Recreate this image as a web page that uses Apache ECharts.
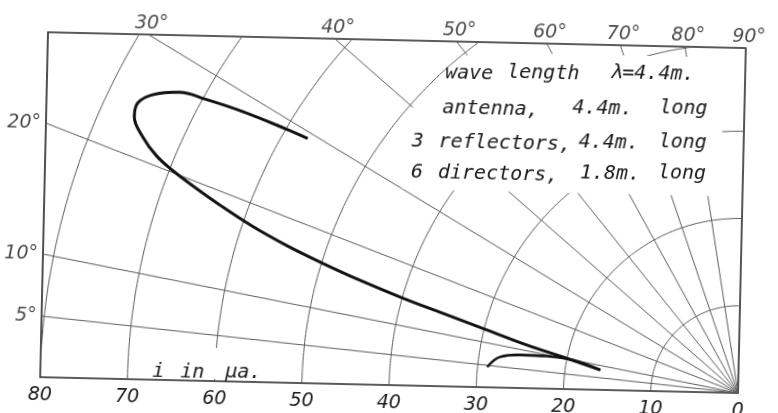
<!DOCTYPE html>
<html>
<head>
<meta charset="utf-8">
<script src="https://cdn.jsdelivr.net/npm/echarts@6/dist/echarts.min.js"></script>
<style>
  html, body { margin: 0; width: 778px; height: 413px; overflow: hidden; background: #fff; }
  /* the scanned sheet sits a little askew, so the whole drawing is turned about the origin */
  #chart { position: absolute; left: -30px; top: -30px; width: 860px; height: 480px;
           transform-origin: 768px 423px; transform: rotate(1.3deg); }
</style>
</head>
<body>
<div id="chart"></div>
<script>
// radial scale (current i in µA) and the polar grid
const currentTicks = [0, 10, 20, 30, 40, 50, 60, 70, 80];
const circleRadii = [10, 20, 30, 40, 50, 60, 70, 80];
const angleLines = [5, 10, 20, 30, 40, 50, 60, 70, 80, 90];

// main lobe, from the tip out along the lower edge, round the end and back
const mainAngle = [8.2, 10.3, 11.5, 12.8, 13.8, 14.5, 15.3, 16.1, 16.8, 17.65, 18.65, 19.5, 20.2, 20.9, 22.0, 23.3, 24.5, 25.7, 27.0, 27.6, 28.3, 29.0, 29.3];
const mainCurrent = [16.0, 20.5, 24.8, 29.7, 35.0, 39.9, 45.2, 50.2, 54.4, 58.8, 63.2, 66.8, 69.7, 72.0, 74.3, 76.1, 76.4, 75.3, 72.7, 69.6, 65.3, 59.9, 57.3];

// small lobe running into the tip
const minorAngle = [4.6, 7.3, 8.6, 9.6, 10.0, 8.2];
const minorCurrent = [28.9, 27.6, 25.4, 22.3, 19.3, 16.0];

const X_MAX = 80;
const Y_MAX = 39.54;   // height of the frame in the same units
const OFF = 30;        // the chart div starts 30px up and left of the page

const rad = d => d * Math.PI / 180;
const toXY = (r, a) => [r * Math.cos(rad(a)), r * Math.sin(rad(a))];

function arc(r, from, to) {
  const pts = [];
  for (let a = from; a < to; a += 0.5) pts.push(toXY(r, a));
  pts.push(toXY(r, to));
  return pts;
}
function circle(r) {
  const end = r > Y_MAX ? Math.asin(Y_MAX / r) * 180 / Math.PI : 90;
  return arc(r, 0, end);
}
function rayEnd(a) {
  if (a >= 90) return [0, Y_MAX];
  const t = Math.tan(rad(a));
  return X_MAX * t <= Y_MAX ? [X_MAX, X_MAX * t] : [Y_MAX / t, Y_MAX];
}

const handFont = { fontFamily: 'DejaVu Sans', fontStyle: 'italic', fontSize: 19, color: '#1a1a1a' };
const gridLine = { color: '#5c5c5c', width: 1 };

const series = [];
circleRadii.forEach(r => series.push({
  type: 'line', data: circle(r), showSymbol: false, silent: true, z: 1, lineStyle: gridLine
}));
angleLines.forEach(a => series.push({
  type: 'line', data: [[0, 0], rayEnd(a)], showSymbol: false, silent: true, z: 1, lineStyle: gridLine
}));
// angle labels where each ray leaves the frame
series.push({
  type: 'scatter', symbolSize: 0, silent: true, clip: false, z: 4,
  data: angleLines.map(a => {
    const p = rayEnd(a);
    const onTop = p[1] >= Y_MAX - 1e-6;
    return {
      value: p,
      label: {
        show: true, formatter: a + '°', ...handFont,
        position: onTop ? 'top' : 'left',
        distance: onTop ? 1 : 5,
        offset: onTop ? [3, 0] : [0, 0]
      }
    };
  })
});
series.push({
  type: 'line', z: 5, showSymbol: false, smooth: 0.4,
  data: mainAngle.map((a, i) => toXY(mainCurrent[i], a)),
  lineStyle: { color: '#111', width: 3 }
});
series.push({
  type: 'line', z: 5, showSymbol: false, smooth: 0.4,
  data: minorAngle.map((a, i) => toXY(minorCurrent[i], a)),
  lineStyle: { color: '#111', width: 2.6 }
});

const chart = echarts.init(document.getElementById('chart'));
chart.setOption({
  animation: false,
  backgroundColor: '#fff',
  grid: { left: 40 + OFF, top: 48 + OFF, width: 698, height: 345, show: true,
          borderColor: '#262626', borderWidth: 1.6 },
  xAxis: {
    type: 'value', min: 0, max: X_MAX, interval: 10, inverse: true,
    axisLine: { show: false }, axisTick: { show: false }, splitLine: { show: false },
    axisLabel: { margin: 9, ...handFont }
  },
  yAxis: { type: 'value', min: 0, max: Y_MAX, show: false },
  series
});

// white patches behind the hand lettering, as on the original sheet
const px = p => chart.convertToPixel({ gridIndex: 0 }, p);
const noteR = 49.6;
const a1 = Math.atan2(38.4, Math.sqrt(noteR * noteR - 38.4 * 38.4)) * 180 / Math.PI;
const a2 = Math.acos(39 / noteR) * 180 / Math.PI;
const notePatch = [[2.5, 38.4], ...arc(noteR, a2, a1).reverse(), [39, 22.5], [2.5, 22.5]].map(px);
const unitA = px([67.4, 3.8]);
const unitB = px([52.3, 0.25]);

const words = [
  ['wave', 438, 80], ['length', 500, 78], ['λ=4.4m.', 603, 76],
  ['antenna,', 436, 115], ['4.4m.', 566, 112], ['long', 653, 110],
  ['3', 406, 149], ['reflectors,', 433, 149], ['4.4m.', 573, 146], ['long', 653, 144],
  ['6', 406, 180], ['directors,', 433, 180], ['1.8m.', 575, 177], ['long', 653, 175],
  ['i', 152, 385], ['in', 180, 385], ['μa.', 225, 384]
];

chart.setOption({
  graphic: [
    { type: 'polygon', z: 3, silent: true, shape: { points: notePatch }, style: { fill: '#fff' } },
    { type: 'rect', z: 3, silent: true,
      shape: { x: unitA[0], y: unitA[1], width: unitB[0] - unitA[0], height: unitB[1] - unitA[1] },
      style: { fill: '#fff' } },
    ...words.map(([t, x, y]) => ({
      type: 'text', z: 4, silent: true, x: x + OFF, y: y + OFF,
      style: { text: t, font: 'italic 20px "DejaVu Sans Mono"', fill: '#1a1a1a', align: 'left', verticalAlign: 'middle' }
    }))
  ]
});
</script>
</body>
</html>
